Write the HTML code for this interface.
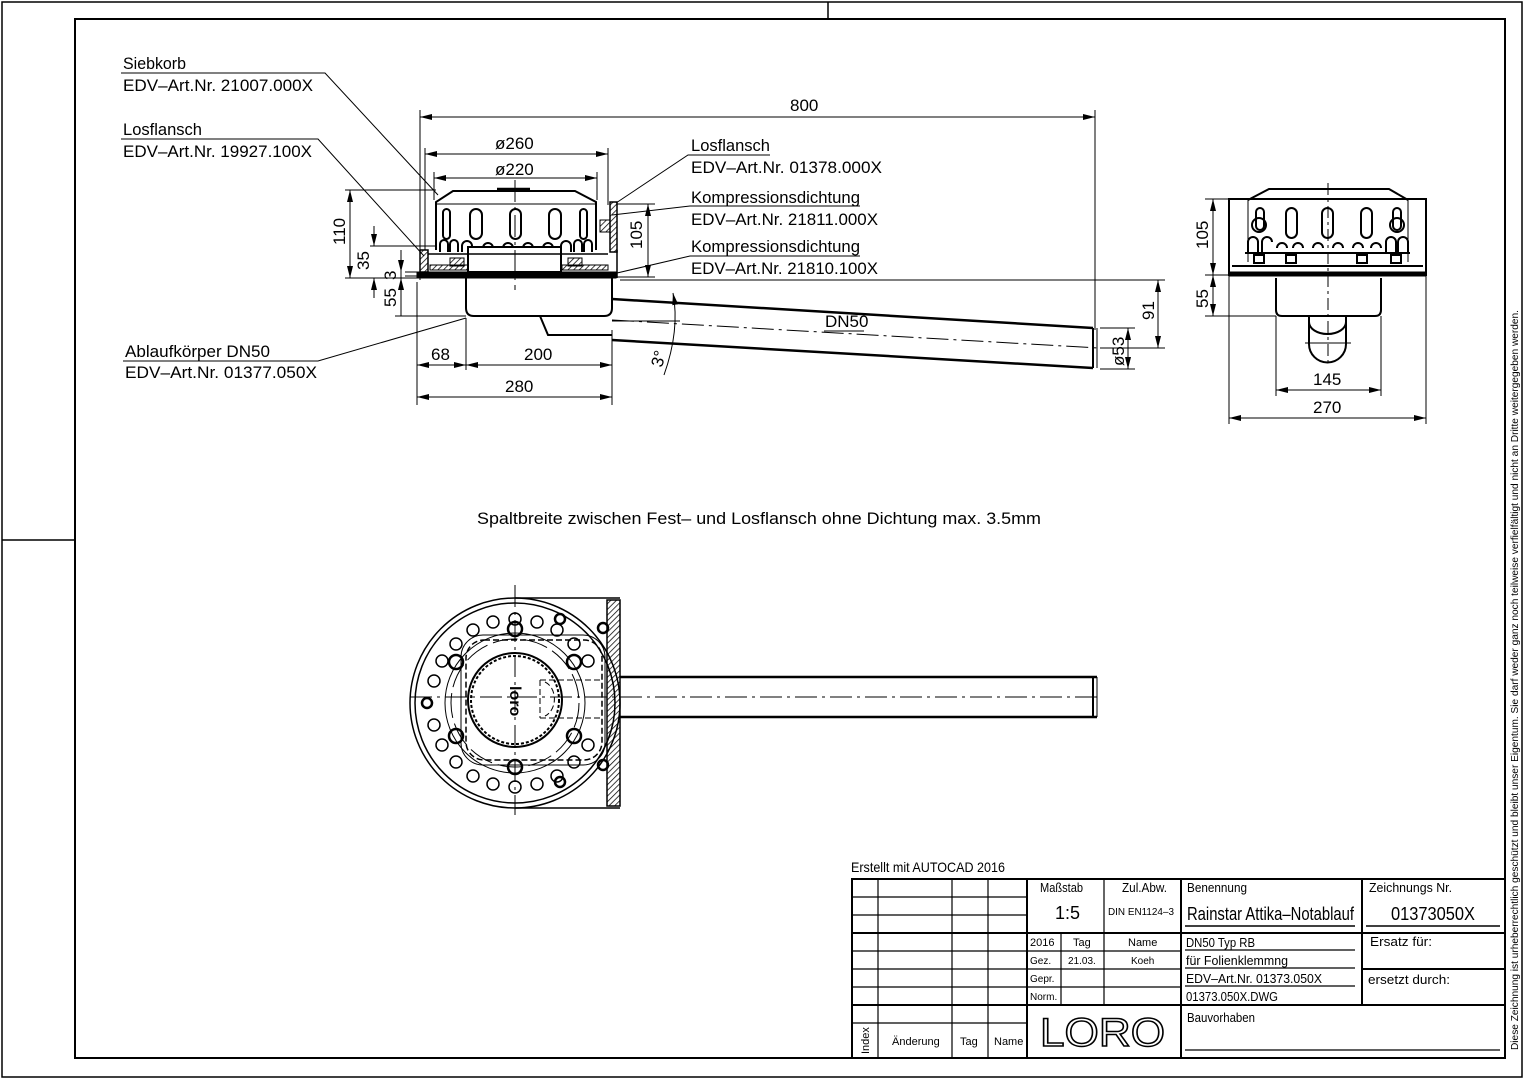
<!DOCTYPE html>
<html><head><meta charset="utf-8"><style>
html,body{margin:0;padding:0;background:#fff;}
svg{display:block;}
text{font-family:"Liberation Sans Narrow","Liberation Sans",sans-serif;fill:#000;}
</style></head><body>
<svg width="1525" height="1080" viewBox="0 0 1525 1080" xmlns="http://www.w3.org/2000/svg">
<defs>
<marker id="a" markerWidth="12" markerHeight="6" refX="12" refY="3" orient="auto-start-reverse" markerUnits="userSpaceOnUse">
<path d="M0,0 L12,3 L0,6 Z" fill="#000"/></marker>
<pattern id="h" width="4" height="4" patternUnits="userSpaceOnUse" patternTransform="rotate(45)"><line x1="0" y1="0" x2="0" y2="4" stroke="#000" stroke-width="1.5"/></pattern>
</defs>
<g fill="none" stroke="#000">
<rect x="2" y="2" width="1520" height="1075" stroke-width="1.5"/>
<rect x="75" y="19" width="1430" height="1039" stroke-width="2"/>
<line x1="828" y1="2" x2="828" y2="19" stroke-width="1.5"/>
<line x1="2" y1="540" x2="75" y2="540" stroke-width="1.5"/>
</g>

<!-- ===== Elevation view ===== -->
<g fill="none" stroke="#000" stroke-width="1">
<line x1="420" y1="117" x2="1095" y2="117" marker-start="url(#a)" marker-end="url(#a)"/>
<line x1="420" y1="110" x2="420" y2="280"/><line x1="1095" y1="110" x2="1095" y2="330"/>
<line x1="425" y1="154" x2="608" y2="154" marker-start="url(#a)" marker-end="url(#a)"/>
<line x1="434" y1="178" x2="597" y2="178" marker-start="url(#a)" marker-end="url(#a)"/>
<line x1="425" y1="148" x2="425" y2="250"/><line x1="608" y1="148" x2="608" y2="205"/>
<line x1="434" y1="172" x2="434" y2="200"/><line x1="597" y1="172" x2="597" y2="200"/>
<path d="M436,250 L436,202 L453,191 L575,191 L596,202 L596,250" stroke-width="2"/>
<line x1="436" y1="204" x2="596" y2="204"/>
<line x1="497" y1="189" x2="530" y2="189" stroke-width="2.5"/>
<g stroke-width="2">
<rect x="443" y="209" width="7" height="30" rx="3.5"/>
<rect x="470" y="209" width="12" height="30" rx="6"/>
<rect x="510" y="209" width="11" height="30" rx="5.5"/>
<rect x="549" y="209" width="12" height="30" rx="6"/>
<rect x="580" y="209" width="7" height="30" rx="3.5"/>
<path d="M440,252 v-8 a4,4 0 0 1 8,0 v8 M450,252 v-8 a4,4 0 0 1 8,0 v8 M462,252 v-6 a5,5 0 0 1 10,0 M483,248 a5,5 0 0 1 10,0 M503,248 a5,5 0 0 1 10,0 M523,248 a5,5 0 0 1 10,0 M543,248 a5,5 0 0 1 10,0 M561,252 v-6 a5,5 0 0 1 10,0 v6 M574,252 v-8 a4,4 0 0 1 8,0 v8 M584,252 v-8 a4,4 0 0 1 8,0 v8"/>
<rect x="468" y="247" width="93" height="25"/>
</g>
<rect x="430" y="265" width="38" height="5" fill="url(#h)"/>
<rect x="562" y="265" width="46" height="5" fill="url(#h)"/>
<rect x="420" y="250" width="8" height="22" fill="url(#h)" stroke-width="1.5"/>
<rect x="450" y="258" width="14" height="8" fill="url(#h)"/>
<rect x="568" y="258" width="14" height="8" fill="url(#h)"/>
<rect x="417" y="272" width="199" height="6" fill="#000"/>
<line x1="428" y1="254" x2="608" y2="254" stroke-width="1.5"/>
<rect x="610" y="202" width="7" height="50" fill="url(#h)" stroke-width="1.5"/>
<rect x="600" y="220" width="10" height="12" fill="url(#h)"/>
<line x1="617" y1="250" x2="617" y2="278" stroke-width="1.5"/>
<path d="M466,278 L466,308 Q466,316 474,316 L604,316 Q612,316 612,308 L612,278" stroke-width="2"/>
<path d="M540,316 L548,335 L612,335" stroke-width="2"/>
<line x1="612" y1="299" x2="1093" y2="328" stroke-width="2.5"/>
<line x1="612" y1="340" x2="1093" y2="368" stroke-width="2.5"/>
<line x1="1093" y1="328" x2="1093" y2="368" stroke-width="2"/>
<line x1="1097" y1="328" x2="1097" y2="368" stroke-width="1"/>
<line x1="612" y1="320" x2="1098" y2="348" stroke-dasharray="22,5,3,5"/>
<line x1="515" y1="180" x2="515" y2="290" stroke-dasharray="22,5,3,5"/>
<line x1="620" y1="280" x2="1165" y2="280"/>
<line x1="1100" y1="348" x2="1165" y2="348"/>
<line x1="1158" y1="280" x2="1158" y2="348" marker-start="url(#a)" marker-end="url(#a)"/>
<line x1="1100" y1="328" x2="1135" y2="328"/><line x1="1100" y1="369" x2="1135" y2="369"/>
<line x1="1128" y1="328" x2="1128" y2="369" marker-start="url(#a)" marker-end="url(#a)"/>
<path d="M673,293 Q680,330 664,375" marker-start="url(#a)"/>
<line x1="612" y1="321" x2="680" y2="321"/>
<line x1="345" y1="190" x2="436" y2="190"/>
<line x1="370" y1="246" x2="436" y2="246"/>
<line x1="345" y1="278" x2="417" y2="278"/>
<line x1="395" y1="316" x2="466" y2="316"/>
<line x1="350" y1="190" x2="350" y2="278" marker-start="url(#a)" marker-end="url(#a)"/>
<line x1="374" y1="226" x2="374" y2="246" marker-end="url(#a)"/>
<line x1="374" y1="298" x2="374" y2="278" marker-end="url(#a)"/>
<line x1="401" y1="250" x2="401" y2="316" />
<line x1="401" y1="258" x2="401" y2="272" marker-end="url(#a)"/>
<line x1="401" y1="316" x2="401" y2="278" marker-end="url(#a)"/>
<line x1="405" y1="272" x2="417" y2="272"/><line x1="405" y1="276" x2="417" y2="276"/>
<line x1="617" y1="204" x2="655" y2="204"/><line x1="617" y1="277" x2="655" y2="277"/>
<line x1="648" y1="204" x2="648" y2="277" marker-start="url(#a)" marker-end="url(#a)"/>
<line x1="417" y1="282" x2="417" y2="405"/>
<line x1="466" y1="318" x2="466" y2="370"/>
<line x1="612" y1="330" x2="612" y2="405"/>
<line x1="417" y1="365" x2="466" y2="365" marker-start="url(#a)" marker-end="url(#a)"/>
<line x1="466" y1="365" x2="612" y2="365" marker-start="url(#a)" marker-end="url(#a)"/>
<line x1="417" y1="397" x2="612" y2="397" marker-start="url(#a)" marker-end="url(#a)"/>
<polyline points="121,73 325,73 438,195"/>
<polyline points="121,139 318,139 424,256"/>
<polyline points="123,361 318,361 466,318"/>
<polyline points="616,203 688,155 770,155"/>
<polyline points="612,215 690,206 860,206"/>
<polyline points="617,273 690,256 860,256"/>
</g>
<g font-size="17" lengthAdjust="spacingAndGlyphs">
<text x="123" y="69" textLength="63" lengthAdjust="spacingAndGlyphs">Siebkorb</text>
<text x="123" y="91" textLength="190" lengthAdjust="spacingAndGlyphs">EDV–Art.Nr.  21007.000X</text>
<text x="123" y="135" textLength="79" lengthAdjust="spacingAndGlyphs">Losflansch</text>
<text x="123" y="157" textLength="189" lengthAdjust="spacingAndGlyphs">EDV–Art.Nr.  19927.100X</text>
<text x="125" y="357" textLength="145" lengthAdjust="spacingAndGlyphs">Ablaufkörper DN50</text>
<text x="125" y="378" textLength="192" lengthAdjust="spacingAndGlyphs">EDV–Art.Nr.  01377.050X</text>
<text x="691" y="151" textLength="79" lengthAdjust="spacingAndGlyphs">Losflansch</text>
<text x="691" y="173" textLength="191" lengthAdjust="spacingAndGlyphs">EDV–Art.Nr.  01378.000X</text>
<text x="691" y="203" textLength="169" lengthAdjust="spacingAndGlyphs">Kompressionsdichtung</text>
<text x="691" y="225" textLength="187" lengthAdjust="spacingAndGlyphs">EDV–Art.Nr.  21811.000X</text>
<text x="691" y="252" textLength="169" lengthAdjust="spacingAndGlyphs">Kompressionsdichtung</text>
<text x="691" y="274" textLength="187" lengthAdjust="spacingAndGlyphs">EDV–Art.Nr.  21810.100X</text>
<text x="790" y="111">800</text>
<text x="495" y="149">ø260</text>
<text x="495" y="175">ø220</text>
<text x="825" y="327">DN50</text>
<text x="431" y="360">68</text>
<text x="524" y="360">200</text>
<text x="505" y="392">280</text>
<text transform="translate(345,245) rotate(-90)">110</text>
<text transform="translate(369,270) rotate(-90)">35</text>
<text transform="translate(396,280) rotate(-90)">3</text>
<text transform="translate(396,307) rotate(-90)">55</text>
<text transform="translate(642,249) rotate(-90)">105</text>
<text transform="translate(1154,320) rotate(-90)">91</text>
<text transform="translate(1124,366) rotate(-90)">ø53</text>
<text transform="translate(662,368) rotate(-75)">3°</text>
</g>
<line x1="824" y1="331" x2="864" y2="331" stroke="#000"/>

<!-- ===== Side view ===== -->
<g fill="none" stroke="#000" stroke-width="1">
<rect x="1229" y="199" width="197" height="76" stroke-width="2"/>
<path d="M1248,200 L1269,189 L1389,189 L1408,200" stroke-width="2"/>
<line x1="1248" y1="200" x2="1248" y2="262"/><line x1="1408" y1="200" x2="1408" y2="262"/>
<line x1="1232" y1="266" x2="1423" y2="266" stroke-width="2"/>
<rect x="1229" y="272" width="197" height="4" fill="#000"/>
<g stroke-width="2">
<rect x="1256" y="208" width="8" height="22" rx="4"/>
<rect x="1286" y="208" width="11" height="30" rx="5.5"/>
<rect x="1322" y="208" width="11" height="30" rx="5.5"/>
<rect x="1361" y="208" width="11" height="30" rx="5.5"/>
<rect x="1393" y="208" width="8" height="22" rx="4"/>
<circle cx="1259" cy="225" r="7"/><circle cx="1397" cy="225" r="7"/>
<path d="M1248,252 v-10 a5,5 0 0 1 10,0 v10 M1262,252 v-10 a5,5 0 0 1 10,0 M1277,248 a5,5 0 0 1 10,0 M1293,248 a5,5 0 0 1 10,0 M1313,248 a5,5 0 0 1 10,0 M1333,248 a5,5 0 0 1 10,0 M1353,248 a5,5 0 0 1 10,0 M1371,248 a5,5 0 0 1 10,0 M1386,252 v-10 a5,5 0 0 1 10,0 v10 M1398,252 v-10 a5,5 0 0 1 10,0 v10"/>
<line x1="1245" y1="253" x2="1410" y2="253"/>
<rect x="1254" y="255" width="10" height="8"/><rect x="1286" y="255" width="10" height="8"/><rect x="1357" y="255" width="10" height="8"/><rect x="1391" y="255" width="10" height="8"/>
<path d="M1276,278 L1276,310 Q1276,316 1282,316 L1375,316 Q1381,316 1381,310 L1381,278"/>
<path d="M1309,316 L1309,344 A18.5,18.5 0 0 0 1346,344 L1346,316"/>
<path d="M1309,322 A18.5,12 0 0 0 1346,322"/>
</g>
<line x1="1328" y1="183" x2="1328" y2="365" stroke-dasharray="12,4,3,4"/>
<line x1="1305" y1="343" x2="1351" y2="343"/>
<line x1="1205" y1="199" x2="1229" y2="199"/><line x1="1205" y1="275" x2="1229" y2="275"/><line x1="1205" y1="316" x2="1276" y2="316"/>
<line x1="1213" y1="199" x2="1213" y2="275" marker-start="url(#a)" marker-end="url(#a)"/>
<line x1="1213" y1="275" x2="1213" y2="316" marker-start="url(#a)" marker-end="url(#a)"/>
<line x1="1276" y1="316" x2="1276" y2="396"/><line x1="1381" y1="316" x2="1381" y2="396"/>
<line x1="1229" y1="276" x2="1229" y2="424"/><line x1="1426" y1="276" x2="1426" y2="424"/>
<line x1="1276" y1="390" x2="1381" y2="390" marker-start="url(#a)" marker-end="url(#a)"/>
<line x1="1229" y1="418" x2="1426" y2="418" marker-start="url(#a)" marker-end="url(#a)"/>
</g>
<g font-size="17">
<text transform="translate(1208,249) rotate(-90)">105</text>
<text transform="translate(1208,308) rotate(-90)">55</text>
<text x="1313" y="385">145</text>
<text x="1313" y="413">270</text>
</g>

<text x="477" y="524" font-size="17" textLength="564" lengthAdjust="spacingAndGlyphs">Spaltbreite zwischen Fest–  und Losflansch ohne Dichtung max. 3.5mm</text>

<!-- ===== Plan view ===== -->
<g fill="none" stroke="#000" stroke-width="1">
<line x1="515" y1="598" x2="620" y2="598" stroke-width="1.5"/>
<line x1="515" y1="808" x2="620" y2="808" stroke-width="1.5"/>
<rect x="607" y="600" width="13" height="206" fill="url(#h)" stroke-width="1.5"/>
<circle cx="515" cy="703" r="105" stroke-width="1.5"/>
<circle cx="515" cy="703" r="100" stroke-width="1.5"/>
<circle cx="515" cy="703" r="70"/>
<circle cx="515" cy="703" r="64" stroke-dasharray="25,6"/>
<rect x="466" y="640" width="136" height="120" rx="18" stroke-dasharray="6,3" stroke-width="1.5"/>
<rect x="461" y="635" width="144" height="130" rx="22"/>
<circle cx="515" cy="700" r="47" stroke-width="2"/>
<circle cx="515" cy="700" r="44" stroke-dasharray="3,2" stroke-width="2"/>
<path d="M540,680 L600,680 M540,718 L600,718 M540,680 L540,718 M545,682 A14,18 0 0 1 545,716" stroke-dasharray="6,3"/>
<g stroke-width="1.5">
<circle cx="574" cy="762" r="6"/><circle cx="574" cy="644" r="6"/>
<circle cx="557" cy="776" r="6"/><circle cx="557" cy="630" r="6"/>
<circle cx="537" cy="784" r="6"/><circle cx="537" cy="622" r="6"/>
<circle cx="515" cy="787" r="6"/><circle cx="515" cy="619" r="6"/>
<circle cx="493" cy="784" r="6"/><circle cx="493" cy="622" r="6"/>
<circle cx="473" cy="776" r="6"/><circle cx="473" cy="630" r="6"/>
<circle cx="456" cy="762" r="6"/><circle cx="456" cy="644" r="6"/>
<circle cx="442" cy="745" r="6"/><circle cx="442" cy="661" r="6"/>
<circle cx="434" cy="725" r="6"/><circle cx="434" cy="681" r="6"/>
<circle cx="588" cy="745" r="6"/><circle cx="588" cy="661" r="6"/>
</g>
<g stroke-width="2.5">
<circle cx="515" cy="629" r="7"/><circle cx="574" cy="662" r="7"/><circle cx="574" cy="736" r="7"/>
<circle cx="515" cy="767" r="7"/><circle cx="456" cy="736" r="7"/><circle cx="456" cy="662" r="7"/>
<circle cx="427" cy="703" r="5"/><circle cx="560" cy="619" r="5"/><circle cx="560" cy="782" r="5"/>
<circle cx="603" cy="628" r="5"/><circle cx="603" cy="765" r="5"/>
</g>
<line x1="620" y1="677" x2="1097" y2="677" stroke-width="2.5"/>
<line x1="620" y1="717" x2="1097" y2="717" stroke-width="2.5"/>
<line x1="1093" y1="677" x2="1093" y2="717" stroke-width="2"/>
<line x1="1097" y1="677" x2="1097" y2="717"/>
<line x1="410" y1="697" x2="1100" y2="697" stroke-dasharray="22,5,3,5"/>
<line x1="515" y1="585" x2="515" y2="815" stroke-dasharray="22,5,3,5"/>
</g>
<text transform="translate(510,686) rotate(90)" font-size="16" font-weight="bold">loro</text>

<!-- ===== Title block ===== -->
<text x="851" y="872" font-size="14" textLength="154" lengthAdjust="spacingAndGlyphs">Erstellt mit AUTOCAD 2016</text>
<g fill="none" stroke="#000">
<rect x="852" y="879" width="653" height="179" stroke-width="2"/>
<g stroke-width="1.2">
<line x1="878" y1="879" x2="878" y2="1058"/><line x1="952" y1="879" x2="952" y2="1058"/><line x1="988" y1="879" x2="988" y2="1058"/>
<line x1="1027" y1="879" x2="1027" y2="1058" stroke-width="2"/>
<line x1="1061" y1="933" x2="1061" y2="1005"/>
<line x1="1104" y1="879" x2="1104" y2="1005"/>
<line x1="1181" y1="879" x2="1181" y2="1058" stroke-width="2"/>
<line x1="1362" y1="879" x2="1362" y2="1005" stroke-width="2"/>
<line x1="852" y1="897" x2="1027" y2="897"/><line x1="852" y1="915" x2="1027" y2="915"/>
<line x1="852" y1="933" x2="1505" y2="933" stroke-width="2"/>
<line x1="852" y1="951" x2="1181" y2="951"/><line x1="852" y1="969" x2="1181" y2="969"/>
<line x1="852" y1="987" x2="1181" y2="987"/><line x1="852" y1="1005" x2="1505" y2="1005" stroke-width="2"/>
<line x1="852" y1="1023" x2="1027" y2="1023"/>
<line x1="1362" y1="969" x2="1505" y2="969" stroke-width="2"/>
<line x1="1185" y1="926" x2="1355" y2="926" stroke-width="1.5"/>
<line x1="1366" y1="926" x2="1500" y2="926" stroke-width="1.5"/>
<line x1="1185" y1="950" x2="1355" y2="950"/><line x1="1185" y1="968" x2="1355" y2="968"/><line x1="1185" y1="986" x2="1355" y2="986"/>
<line x1="1185" y1="1050" x2="1500" y2="1050"/>
</g>
</g>
<g font-size="13">
<text x="1040" y="892" textLength="43" lengthAdjust="spacingAndGlyphs">Maßstab</text>
<text x="1122" y="892" textLength="45" lengthAdjust="spacingAndGlyphs">Zul.Abw.</text>
<text x="1187" y="892" textLength="60" lengthAdjust="spacingAndGlyphs">Benennung</text>
<text x="1369" y="892" textLength="83" lengthAdjust="spacingAndGlyphs">Zeichnungs Nr.</text>
<text x="1055" y="919" font-size="18">1:5</text>
<text x="1108" y="915" font-size="10" textLength="66" lengthAdjust="spacingAndGlyphs">DIN EN1124–3</text>
<text x="1187" y="920" font-size="18" textLength="167" lengthAdjust="spacingAndGlyphs">Rainstar Attika–Notablauf</text>
<text x="1391" y="920" font-size="18" textLength="84" lengthAdjust="spacingAndGlyphs">01373050X</text>
<text x="1030" y="946" font-size="11">2016</text><text x="1073" y="946" font-size="11">Tag</text><text x="1128" y="946" font-size="11">Name</text>
<text x="1030" y="964" font-size="10">Gez.</text><text x="1068" y="964" font-size="10">21.03.</text><text x="1131" y="964" font-size="10">Koeh</text>
<text x="1030" y="982" font-size="10">Gepr.</text><text x="1030" y="1000" font-size="10">Norm.</text>
<text x="1186" y="947" textLength="69" lengthAdjust="spacingAndGlyphs">DN50  Typ  RB</text>
<text x="1186" y="965" textLength="102" lengthAdjust="spacingAndGlyphs">für  Folienklemmng</text>
<text x="1186" y="983" textLength="136" lengthAdjust="spacingAndGlyphs">EDV–Art.Nr.  01373.050X</text>
<text x="1186" y="1001" textLength="92" lengthAdjust="spacingAndGlyphs">01373.050X.DWG</text>
<text x="1370" y="946" textLength="62" lengthAdjust="spacingAndGlyphs">Ersatz  für:</text>
<text x="1368" y="984" textLength="82" lengthAdjust="spacingAndGlyphs">ersetzt  durch:</text>
<text x="1187" y="1022" textLength="68" lengthAdjust="spacingAndGlyphs">Bauvorhaben</text>
<text x="892" y="1045" font-size="11">Änderung</text><text x="960" y="1045" font-size="11">Tag</text><text x="994" y="1045" font-size="11">Name</text>
<text transform="translate(869,1054) rotate(-90)" font-size="11">Index</text>
<text x="1040" y="1046" font-size="40" style="fill:none" stroke="#000" stroke-width="1.5" textLength="125" lengthAdjust="spacingAndGlyphs">LORO</text>
</g>
<text transform="translate(1518,1050) rotate(-90)" font-size="10.5" textLength="740" lengthAdjust="spacingAndGlyphs">Diese Zeichnung ist urheberrechtlich geschützt und bleibt unser Eigentum. Sie darf weder ganz noch teilweise verfielfältigt und nicht an Dritte weitergegeben werden.</text>
</svg>
</body></html>
